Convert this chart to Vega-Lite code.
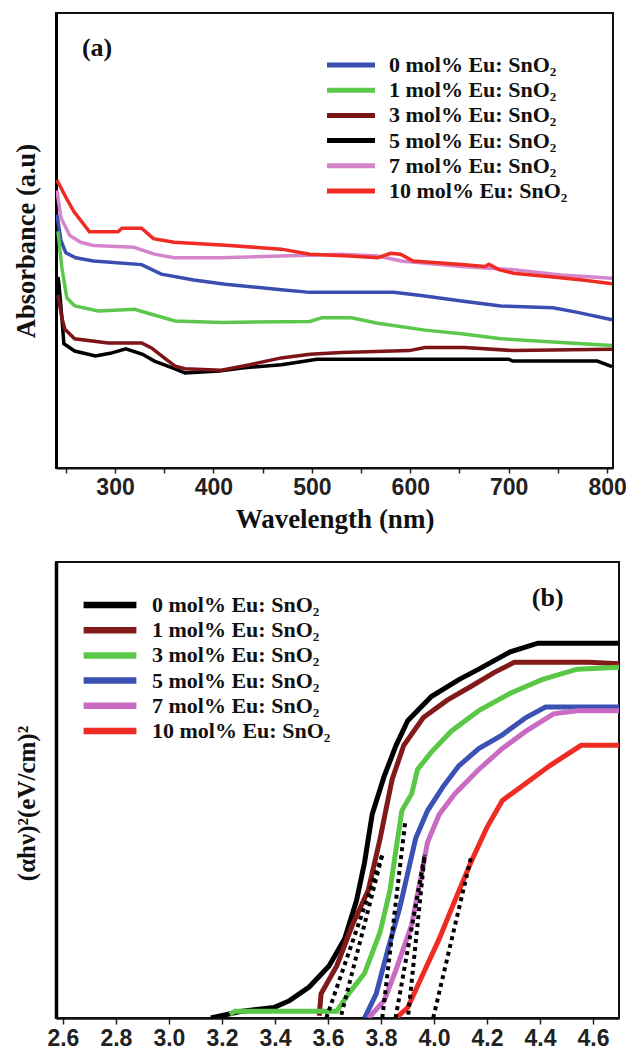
{
  "$schema": "https://vega.github.io/schema/vega-lite/v6.json",
  "padding": {"left": 12, "top": 12, "right": 2, "bottom": 0},
  "background": "white",
  "config": {
    "view": {"stroke": "#111", "strokeWidth": 2},
    "legend": {"padding": 0}
  },
  "spacing": 28,
  "resolve": {"scale": {"color": "independent"}, "legend": {"color": "independent"}},
  "datasets": {
    "a": [
      {"s": "0 mol% Eu: SnO₂", "x": 241, "y": 55.7}, {"s": "0 mol% Eu: SnO₂", "x": 245, "y": 50}, {"s": "0 mol% Eu: SnO₂", "x": 250, "y": 47.3}, {"s": "0 mol% Eu: SnO₂", "x": 260, "y": 46.2}, {"s": "0 mol% Eu: SnO₂", "x": 278, "y": 45.5}, {"s": "0 mol% Eu: SnO₂", "x": 327, "y": 44.7}, {"s": "0 mol% Eu: SnO₂", "x": 347, "y": 42.6}, {"s": "0 mol% Eu: SnO₂", "x": 380, "y": 41.3}, {"s": "0 mol% Eu: SnO₂", "x": 412, "y": 40.4}, {"s": "0 mol% Eu: SnO₂", "x": 469, "y": 39.2}, {"s": "0 mol% Eu: SnO₂", "x": 498, "y": 38.6}, {"s": "0 mol% Eu: SnO₂", "x": 583, "y": 38.6}, {"s": "0 mol% Eu: SnO₂", "x": 611, "y": 37.9}, {"s": "0 mol% Eu: SnO₂", "x": 652, "y": 36.7}, {"s": "0 mol% Eu: SnO₂", "x": 692, "y": 35.6}, {"s": "0 mol% Eu: SnO₂", "x": 745, "y": 35.2}, {"s": "0 mol% Eu: SnO₂", "x": 770, "y": 34.2}, {"s": "0 mol% Eu: SnO₂", "x": 805, "y": 32.6},
      {"s": "1 mol% Eu: SnO₂", "x": 242, "y": 52}, {"s": "1 mol% Eu: SnO₂", "x": 246, "y": 44}, {"s": "1 mol% Eu: SnO₂", "x": 251, "y": 37.4}, {"s": "1 mol% Eu: SnO₂", "x": 259, "y": 35.6}, {"s": "1 mol% Eu: SnO₂", "x": 283, "y": 34.5}, {"s": "1 mol% Eu: SnO₂", "x": 320, "y": 34.9}, {"s": "1 mol% Eu: SnO₂", "x": 337, "y": 33.8}, {"s": "1 mol% Eu: SnO₂", "x": 361, "y": 32.3}, {"s": "1 mol% Eu: SnO₂", "x": 408, "y": 32}, {"s": "1 mol% Eu: SnO₂", "x": 498, "y": 32.2}, {"s": "1 mol% Eu: SnO₂", "x": 510, "y": 33}, {"s": "1 mol% Eu: SnO₂", "x": 540, "y": 33}, {"s": "1 mol% Eu: SnO₂", "x": 567, "y": 31.8}, {"s": "1 mol% Eu: SnO₂", "x": 615, "y": 30.3}, {"s": "1 mol% Eu: SnO₂", "x": 652, "y": 29.5}, {"s": "1 mol% Eu: SnO₂", "x": 692, "y": 28.4}, {"s": "1 mol% Eu: SnO₂", "x": 745, "y": 27.7}, {"s": "1 mol% Eu: SnO₂", "x": 805, "y": 26.9},
      {"s": "5 mol% Eu: SnO₂", "x": 242, "y": 42}, {"s": "5 mol% Eu: SnO₂", "x": 243, "y": 40.4}, {"s": "5 mol% Eu: SnO₂", "x": 246, "y": 33}, {"s": "5 mol% Eu: SnO₂", "x": 248, "y": 27.3}, {"s": "5 mol% Eu: SnO₂", "x": 259, "y": 25.7}, {"s": "5 mol% Eu: SnO₂", "x": 280, "y": 24.6}, {"s": "5 mol% Eu: SnO₂", "x": 295, "y": 25.2}, {"s": "5 mol% Eu: SnO₂", "x": 311, "y": 26.2}, {"s": "5 mol% Eu: SnO₂", "x": 328, "y": 25}, {"s": "5 mol% Eu: SnO₂", "x": 340, "y": 23.5}, {"s": "5 mol% Eu: SnO₂", "x": 361, "y": 21.8}, {"s": "5 mol% Eu: SnO₂", "x": 371, "y": 20.9}, {"s": "5 mol% Eu: SnO₂", "x": 406, "y": 21.3}, {"s": "5 mol% Eu: SnO₂", "x": 429, "y": 22}, {"s": "5 mol% Eu: SnO₂", "x": 469, "y": 22.7}, {"s": "5 mol% Eu: SnO₂", "x": 494, "y": 23.5}, {"s": "5 mol% Eu: SnO₂", "x": 505, "y": 23.9}, {"s": "5 mol% Eu: SnO₂", "x": 700, "y": 23.9}, {"s": "5 mol% Eu: SnO₂", "x": 704, "y": 23.5}, {"s": "5 mol% Eu: SnO₂", "x": 790, "y": 23.5}, {"s": "5 mol% Eu: SnO₂", "x": 805, "y": 22.3},
      {"s": "3 mol% Eu: SnO₂", "x": 242, "y": 38}, {"s": "3 mol% Eu: SnO₂", "x": 246, "y": 33}, {"s": "3 mol% Eu: SnO₂", "x": 249, "y": 30.5}, {"s": "3 mol% Eu: SnO₂", "x": 259, "y": 28.4}, {"s": "3 mol% Eu: SnO₂", "x": 293, "y": 27.5}, {"s": "3 mol% Eu: SnO₂", "x": 327, "y": 27.5}, {"s": "3 mol% Eu: SnO₂", "x": 337, "y": 26.4}, {"s": "3 mol% Eu: SnO₂", "x": 350, "y": 24.2}, {"s": "3 mol% Eu: SnO₂", "x": 361, "y": 22.4}, {"s": "3 mol% Eu: SnO₂", "x": 371, "y": 21.8}, {"s": "3 mol% Eu: SnO₂", "x": 408, "y": 21.5}, {"s": "3 mol% Eu: SnO₂", "x": 437, "y": 22.7}, {"s": "3 mol% Eu: SnO₂", "x": 469, "y": 24.2}, {"s": "3 mol% Eu: SnO₂", "x": 498, "y": 25}, {"s": "3 mol% Eu: SnO₂", "x": 530, "y": 25.4}, {"s": "3 mol% Eu: SnO₂", "x": 599, "y": 25.8}, {"s": "3 mol% Eu: SnO₂", "x": 615, "y": 26.5}, {"s": "3 mol% Eu: SnO₂", "x": 655, "y": 26.5}, {"s": "3 mol% Eu: SnO₂", "x": 705, "y": 25.8}, {"s": "3 mol% Eu: SnO₂", "x": 805, "y": 26.1},
      {"s": "7 mol% Eu: SnO₂", "x": 241, "y": 61}, {"s": "7 mol% Eu: SnO₂", "x": 245, "y": 55}, {"s": "7 mol% Eu: SnO₂", "x": 254, "y": 51.1}, {"s": "7 mol% Eu: SnO₂", "x": 265, "y": 49.6}, {"s": "7 mol% Eu: SnO₂", "x": 278, "y": 48.9}, {"s": "7 mol% Eu: SnO₂", "x": 319, "y": 48.5}, {"s": "7 mol% Eu: SnO₂", "x": 340, "y": 47}, {"s": "7 mol% Eu: SnO₂", "x": 360, "y": 46.2}, {"s": "7 mol% Eu: SnO₂", "x": 408, "y": 46.2}, {"s": "7 mol% Eu: SnO₂", "x": 469, "y": 46.6}, {"s": "7 mol% Eu: SnO₂", "x": 530, "y": 47}, {"s": "7 mol% Eu: SnO₂", "x": 567, "y": 46.6}, {"s": "7 mol% Eu: SnO₂", "x": 591, "y": 45.5}, {"s": "7 mol% Eu: SnO₂", "x": 652, "y": 44.3}, {"s": "7 mol% Eu: SnO₂", "x": 705, "y": 43.6}, {"s": "7 mol% Eu: SnO₂", "x": 753, "y": 42.4}, {"s": "7 mol% Eu: SnO₂", "x": 805, "y": 41.7},
      {"s": "10 mol% Eu: SnO₂", "x": 241, "y": 63.3}, {"s": "10 mol% Eu: SnO₂", "x": 250, "y": 59.5}, {"s": "10 mol% Eu: SnO₂", "x": 258, "y": 56.4}, {"s": "10 mol% Eu: SnO₂", "x": 274, "y": 51.9}, {"s": "10 mol% Eu: SnO₂", "x": 303, "y": 51.9}, {"s": "10 mol% Eu: SnO₂", "x": 307, "y": 52.7}, {"s": "10 mol% Eu: SnO₂", "x": 327, "y": 52.7}, {"s": "10 mol% Eu: SnO₂", "x": 339, "y": 50.4}, {"s": "10 mol% Eu: SnO₂", "x": 360, "y": 49.6}, {"s": "10 mol% Eu: SnO₂", "x": 416, "y": 48.9}, {"s": "10 mol% Eu: SnO₂", "x": 469, "y": 48.1}, {"s": "10 mol% Eu: SnO₂", "x": 498, "y": 47}, {"s": "10 mol% Eu: SnO₂", "x": 538, "y": 46.6}, {"s": "10 mol% Eu: SnO₂", "x": 567, "y": 46.2}, {"s": "10 mol% Eu: SnO₂", "x": 580, "y": 47.2}, {"s": "10 mol% Eu: SnO₂", "x": 590, "y": 47}, {"s": "10 mol% Eu: SnO₂", "x": 603, "y": 45.5}, {"s": "10 mol% Eu: SnO₂", "x": 652, "y": 44.7}, {"s": "10 mol% Eu: SnO₂", "x": 676, "y": 44.3}, {"s": "10 mol% Eu: SnO₂", "x": 680, "y": 44.8}, {"s": "10 mol% Eu: SnO₂", "x": 690, "y": 43.6}, {"s": "10 mol% Eu: SnO₂", "x": 705, "y": 42.8}, {"s": "10 mol% Eu: SnO₂", "x": 745, "y": 42}, {"s": "10 mol% Eu: SnO₂", "x": 775, "y": 41.3}, {"s": "10 mol% Eu: SnO₂", "x": 805, "y": 40.5}
    ],
    "b": [
      {"s": "0 mol% Eu: SnO₂", "x": 3.158, "y": 0}, {"s": "0 mol% Eu: SnO₂", "x": 3.277, "y": 1.5}, {"s": "0 mol% Eu: SnO₂", "x": 3.396, "y": 2.3}, {"s": "0 mol% Eu: SnO₂", "x": 3.455, "y": 3.8}, {"s": "0 mol% Eu: SnO₂", "x": 3.529, "y": 6.8}, {"s": "0 mol% Eu: SnO₂", "x": 3.604, "y": 11.4}, {"s": "0 mol% Eu: SnO₂", "x": 3.663, "y": 17.4}, {"s": "0 mol% Eu: SnO₂", "x": 3.708, "y": 25.8}, {"s": "0 mol% Eu: SnO₂", "x": 3.738, "y": 34.1}, {"s": "0 mol% Eu: SnO₂", "x": 3.767, "y": 44.7}, {"s": "0 mol% Eu: SnO₂", "x": 3.812, "y": 53}, {"s": "0 mol% Eu: SnO₂", "x": 3.857, "y": 59.8}, {"s": "0 mol% Eu: SnO₂", "x": 3.901, "y": 65.2}, {"s": "0 mol% Eu: SnO₂", "x": 3.99, "y": 70.5}, {"s": "0 mol% Eu: SnO₂", "x": 4.094, "y": 74.2}, {"s": "0 mol% Eu: SnO₂", "x": 4.169, "y": 76.5}, {"s": "0 mol% Eu: SnO₂", "x": 4.288, "y": 80.3}, {"s": "0 mol% Eu: SnO₂", "x": 4.392, "y": 82.2}, {"s": "0 mol% Eu: SnO₂", "x": 4.698, "y": 82.2},
      {"s": "1 mol% Eu: SnO₂", "x": 3.567, "y": 0.5}, {"s": "1 mol% Eu: SnO₂", "x": 3.574, "y": 5.3}, {"s": "1 mol% Eu: SnO₂", "x": 3.633, "y": 11.4}, {"s": "1 mol% Eu: SnO₂", "x": 3.693, "y": 20.5}, {"s": "1 mol% Eu: SnO₂", "x": 3.752, "y": 28}, {"s": "1 mol% Eu: SnO₂", "x": 3.797, "y": 39.4}, {"s": "1 mol% Eu: SnO₂", "x": 3.842, "y": 52.3}, {"s": "1 mol% Eu: SnO₂", "x": 3.886, "y": 59.8}, {"s": "1 mol% Eu: SnO₂", "x": 3.96, "y": 65.9}, {"s": "1 mol% Eu: SnO₂", "x": 4.05, "y": 69.7}, {"s": "1 mol% Eu: SnO₂", "x": 4.139, "y": 72.7}, {"s": "1 mol% Eu: SnO₂", "x": 4.228, "y": 75.8}, {"s": "1 mol% Eu: SnO₂", "x": 4.303, "y": 78}, {"s": "1 mol% Eu: SnO₂", "x": 4.585, "y": 78}, {"s": "1 mol% Eu: SnO₂", "x": 4.698, "y": 77.7},
      {"s": "3 mol% Eu: SnO₂", "x": 3.23, "y": 0.8}, {"s": "3 mol% Eu: SnO₂", "x": 3.25, "y": 1.5}, {"s": "3 mol% Eu: SnO₂", "x": 3.633, "y": 1.5}, {"s": "3 mol% Eu: SnO₂", "x": 3.678, "y": 5.3}, {"s": "3 mol% Eu: SnO₂", "x": 3.738, "y": 9.8}, {"s": "3 mol% Eu: SnO₂", "x": 3.797, "y": 18.9}, {"s": "3 mol% Eu: SnO₂", "x": 3.834, "y": 28}, {"s": "3 mol% Eu: SnO₂", "x": 3.857, "y": 37.1}, {"s": "3 mol% Eu: SnO₂", "x": 3.879, "y": 45.5}, {"s": "3 mol% Eu: SnO₂", "x": 3.916, "y": 49.2}, {"s": "3 mol% Eu: SnO₂", "x": 3.938, "y": 54.5}, {"s": "3 mol% Eu: SnO₂", "x": 3.99, "y": 58.3}, {"s": "3 mol% Eu: SnO₂", "x": 4.065, "y": 62.9}, {"s": "3 mol% Eu: SnO₂", "x": 4.169, "y": 67.4}, {"s": "3 mol% Eu: SnO₂", "x": 4.288, "y": 71.2}, {"s": "3 mol% Eu: SnO₂", "x": 4.407, "y": 74.2}, {"s": "3 mol% Eu: SnO₂", "x": 4.54, "y": 76.5}, {"s": "3 mol% Eu: SnO₂", "x": 4.698, "y": 76.9},
      {"s": "5 mol% Eu: SnO₂", "x": 3.738, "y": 0}, {"s": "5 mol% Eu: SnO₂", "x": 3.782, "y": 5.3}, {"s": "5 mol% Eu: SnO₂", "x": 3.827, "y": 15.2}, {"s": "5 mol% Eu: SnO₂", "x": 3.871, "y": 24.2}, {"s": "5 mol% Eu: SnO₂", "x": 3.901, "y": 31.8}, {"s": "5 mol% Eu: SnO₂", "x": 3.931, "y": 39.4}, {"s": "5 mol% Eu: SnO₂", "x": 3.976, "y": 45.5}, {"s": "5 mol% Eu: SnO₂", "x": 4.035, "y": 50.8}, {"s": "5 mol% Eu: SnO₂", "x": 4.094, "y": 55.3}, {"s": "5 mol% Eu: SnO₂", "x": 4.169, "y": 59.1}, {"s": "5 mol% Eu: SnO₂", "x": 4.258, "y": 62.1}, {"s": "5 mol% Eu: SnO₂", "x": 4.347, "y": 65.9}, {"s": "5 mol% Eu: SnO₂", "x": 4.421, "y": 68.2}, {"s": "5 mol% Eu: SnO₂", "x": 4.698, "y": 68.2},
      {"s": "7 mol% Eu: SnO₂", "x": 3.753, "y": 0}, {"s": "7 mol% Eu: SnO₂", "x": 3.812, "y": 3.8}, {"s": "7 mol% Eu: SnO₂", "x": 3.857, "y": 10.6}, {"s": "7 mol% Eu: SnO₂", "x": 3.916, "y": 20.5}, {"s": "7 mol% Eu: SnO₂", "x": 3.946, "y": 29.5}, {"s": "7 mol% Eu: SnO₂", "x": 3.976, "y": 38.6}, {"s": "7 mol% Eu: SnO₂", "x": 4.02, "y": 44.7}, {"s": "7 mol% Eu: SnO₂", "x": 4.079, "y": 49.2}, {"s": "7 mol% Eu: SnO₂", "x": 4.169, "y": 54.5}, {"s": "7 mol% Eu: SnO₂", "x": 4.258, "y": 59.1}, {"s": "7 mol% Eu: SnO₂", "x": 4.347, "y": 62.9}, {"s": "7 mol% Eu: SnO₂", "x": 4.451, "y": 66.7}, {"s": "7 mol% Eu: SnO₂", "x": 4.54, "y": 67.4}, {"s": "7 mol% Eu: SnO₂", "x": 4.698, "y": 67.4},
      {"s": "10 mol% Eu: SnO₂", "x": 3.857, "y": 0}, {"s": "10 mol% Eu: SnO₂", "x": 3.901, "y": 2.3}, {"s": "10 mol% Eu: SnO₂", "x": 3.96, "y": 9.8}, {"s": "10 mol% Eu: SnO₂", "x": 4.02, "y": 17.4}, {"s": "10 mol% Eu: SnO₂", "x": 4.079, "y": 25.8}, {"s": "10 mol% Eu: SnO₂", "x": 4.139, "y": 34.1}, {"s": "10 mol% Eu: SnO₂", "x": 4.199, "y": 41.7}, {"s": "10 mol% Eu: SnO₂", "x": 4.258, "y": 47.7}, {"s": "10 mol% Eu: SnO₂", "x": 4.347, "y": 51.5}, {"s": "10 mol% Eu: SnO₂", "x": 4.436, "y": 55.3}, {"s": "10 mol% Eu: SnO₂", "x": 4.555, "y": 59.8}, {"s": "10 mol% Eu: SnO₂", "x": 4.698, "y": 59.8}
    ],
    "d": [
      {"id": "d1", "x": 3.594, "y": 0}, {"id": "d1", "x": 3.805, "y": 35.8},
      {"id": "d2", "x": 3.643, "y": -1}, {"id": "d2", "x": 3.805, "y": 35.8},
      {"id": "d3", "x": 3.805, "y": 0}, {"id": "d3", "x": 3.892, "y": 43.3},
      {"id": "d4", "x": 3.855, "y": 0}, {"id": "d4", "x": 3.965, "y": 35.8},
      {"id": "d5", "x": 3.9, "y": -1}, {"id": "d5", "x": 3.965, "y": 35.8},
      {"id": "d6", "x": 3.997, "y": 0}, {"id": "d6", "x": 4.142, "y": 35.8}
    ]
  },
  "vconcat": [
    {
      "width": 557,
      "height": 455,
      "layer": [
        {
          "data": {"name": "a"},
          "mark": {"type": "line", "strokeWidth": 3.5, "clip": true},
          "encoding": {
            "x": {"field": "x", "type": "quantitative", "scale": {"domain": [240, 806], "nice": false, "zero": false},
              "axis": {"title": "Wavelength (nm)", "values": [250, 300, 350, 400, 450, 500, 550, 600, 650, 700, 750, 800],
                "labelExpr": "datum.value % 100 == 0 ? datum.label : ''", "grid": false, "tickSize": 5, "tickWidth": 1.5, "tickColor": "#222",
                "domainWidth": 2, "domainColor": "#111", "labelFont": "Liberation Sans", "labelFontWeight": "bold", "labelFontSize": 23,
                "labelPadding": 3, "labelColor": "#222", "labelFlush": false, "labelOverlap": false,
                "titleFont": "Liberation Serif", "titleFontSize": 27, "titleFontWeight": "bold", "titlePadding": 7, "titleColor": "#111"}},
            "y": {"field": "y", "type": "quantitative", "scale": {"domain": [0, 100], "nice": false},
              "axis": {"title": "Absorbance (a.u)", "labels": false, "ticks": false, "grid": false, "domainWidth": 3, "domainColor": "#000",
                "titleFont": "Liberation Serif", "titleFontSize": 26.5, "titleFontWeight": "bold", "titlePadding": 16, "titleColor": "#111"}},
            "color": {"field": "s", "type": "nominal",
              "scale": {"domain": ["0 mol% Eu: SnO₂", "1 mol% Eu: SnO₂", "3 mol% Eu: SnO₂", "5 mol% Eu: SnO₂", "7 mol% Eu: SnO₂", "10 mol% Eu: SnO₂"],
                "range": ["#3a4db0", "#5bc84b", "#7d1418", "#000000", "#d585cb", "#ef2b24"]},
              "legend": {"title": null, "orient": "none", "legendX": 284, "legendY": 41, "symbolType": "M-4,0H4", "symbolSize": 144,
                "symbolStrokeWidth": 5, "labelFont": "Liberation Serif", "labelFontWeight": "bold", "labelFontSize": 22, "labelColor": "#111",
                "labelOffset": 27, "rowPadding": 3.2, "labelLimit": 400}}
          }
        },
        {
          "data": {"values": [{"x": 281.7, "y": 92.3, "t": "(a)"}]},
          "mark": {"type": "text", "font": "Liberation Serif", "fontWeight": "bold", "fontSize": 26, "align": "center", "baseline": "middle", "color": "#111"},
          "encoding": {
            "x": {"field": "x", "type": "quantitative"},
            "y": {"field": "y", "type": "quantitative"},
            "text": {"field": "t"}
          }
        }
      ]
    },
    {
      "width": 563,
      "height": 456,
      "layer": [
        {
          "data": {"name": "b"},
          "mark": {"type": "line", "strokeWidth": 5, "clip": true},
          "encoding": {
            "x": {"field": "x", "type": "quantitative", "scale": {"domain": [2.574, 4.698], "nice": false, "zero": false},
              "axis": {"title": null, "values": [2.6, 2.7, 2.8, 2.9, 3.0, 3.1, 3.2, 3.3, 3.4, 3.5, 3.6, 3.7, 3.8, 3.9, 4.0, 4.1, 4.2, 4.3, 4.4, 4.5, 4.6],
                "labelExpr": "round(datum.value * 10) % 2 == 0 ? format(datum.value, '.1f') : ''", "grid": false, "tickSize": 6, "tickWidth": 1.5, "tickColor": "#222",
                "domainWidth": 2.5, "domainColor": "#111", "labelFont": "Liberation Sans", "labelFontWeight": "bold", "labelFontSize": 23,
                "labelPadding": 3, "labelColor": "#222", "labelFlush": false, "labelOverlap": false}},
            "y": {"field": "y", "type": "quantitative", "scale": {"domain": [0, 100], "nice": false},
              "axis": {"title": "(αhν)²(eV/cm)²", "labels": false, "ticks": false, "grid": false, "domainWidth": 3.5, "domainColor": "#000",
                "titleFont": "Liberation Serif", "titleFontSize": 25, "titleFontWeight": "bold", "titlePadding": 17, "titleColor": "#111", "titleY": 241}},
            "color": {"field": "s", "type": "nominal",
              "scale": {"domain": ["0 mol% Eu: SnO₂", "1 mol% Eu: SnO₂", "3 mol% Eu: SnO₂", "5 mol% Eu: SnO₂", "7 mol% Eu: SnO₂", "10 mol% Eu: SnO₂"],
                "range": ["#000000", "#821a1a", "#5ac846", "#3b51b3", "#c96bc3", "#ef2b24"]},
              "legend": {"title": null, "orient": "none", "legendX": 43, "legendY": 32, "symbolType": "M-4.4,0H4.4", "symbolSize": 144,
                "symbolStrokeWidth": 6.5, "labelFont": "Liberation Serif", "labelFontWeight": "bold", "labelFontSize": 22, "labelColor": "#111",
                "labelOffset": 31, "rowPadding": -0.8, "labelLimit": 400}}
          }
        },
        {
          "data": {"name": "d"},
          "mark": {"type": "line", "strokeWidth": 4, "strokeDash": [4, 4], "color": "#000", "clip": true},
          "encoding": {
            "x": {"field": "x", "type": "quantitative"},
            "y": {"field": "y", "type": "quantitative"},
            "detail": {"field": "id"}
          }
        },
        {
          "data": {"values": [{"x": 4.429, "y": 92.1, "t": "(b)"}]},
          "mark": {"type": "text", "font": "Liberation Serif", "fontWeight": "bold", "fontSize": 26, "align": "center", "baseline": "middle", "color": "#111"},
          "encoding": {
            "x": {"field": "x", "type": "quantitative"},
            "y": {"field": "y", "type": "quantitative"},
            "text": {"field": "t"}
          }
        }
      ]
    }
  ]
}
